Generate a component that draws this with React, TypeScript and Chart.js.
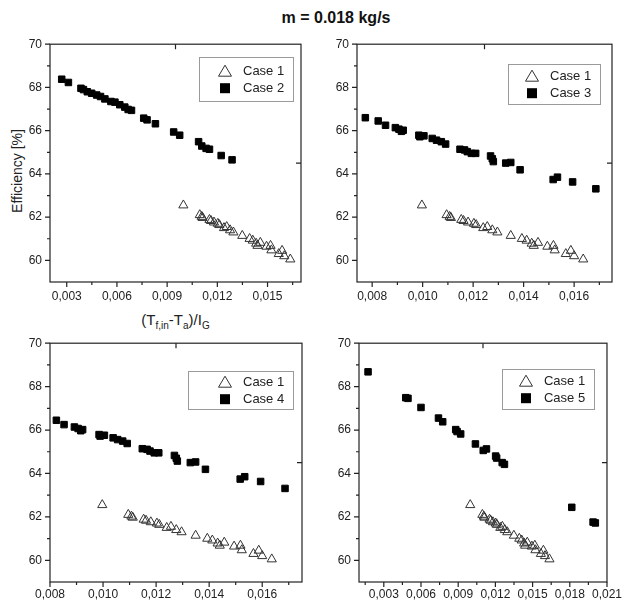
import React, { useEffect, useRef } from 'react';
import { Chart, registerables } from 'chart.js';

Chart.register(...registerables);
Chart.defaults.font.family = '"Liberation Sans", Arial, sans-serif';

// ---- data ----
const case1X = [0.00997, 0.01095, 0.01107, 0.01112, 0.01153, 0.01162, 0.0118, 0.01203, 0.01212, 0.0124, 0.01256, 0.01276, 0.01296, 0.01349, 0.01393, 0.01412, 0.01432, 0.0144, 0.01457, 0.01494, 0.01518, 0.01523, 0.01567, 0.01587, 0.016, 0.01636];
const case1Y = [62.55, 62.1, 62.02, 61.97, 61.88, 61.83, 61.76, 61.7, 61.64, 61.5, 61.55, 61.4, 61.3, 61.14, 61.0, 60.92, 60.78, 60.68, 60.82, 60.64, 60.68, 60.47, 60.3, 60.45, 60.2, 60.05];

const case2X = [0.0027, 0.0031, 0.00385, 0.004, 0.00423, 0.00449, 0.00479, 0.00502, 0.00528, 0.00564, 0.00588, 0.00617, 0.00647, 0.00667, 0.00687, 0.0076, 0.0078, 0.0083, 0.00939, 0.00975, 0.01088, 0.01107, 0.01133, 0.01153, 0.01223, 0.01288];
const case2Y = [68.38, 68.23, 67.96, 67.9, 67.8, 67.73, 67.65, 67.58, 67.47, 67.35, 67.32, 67.2, 67.09, 66.98, 66.94, 66.58, 66.5, 66.32, 65.94, 65.79, 65.49, 65.29, 65.18, 65.14, 64.85, 64.65];

const case3X = [0.00773, 0.00824, 0.00853, 0.00892, 0.00906, 0.00916, 0.00923, 0.00985, 0.00989, 0.01005, 0.01038, 0.01055, 0.01074, 0.01091, 0.01148, 0.01166, 0.01177, 0.01193, 0.0121, 0.01269, 0.01276, 0.0128, 0.01329, 0.01349, 0.01386, 0.01517, 0.01534, 0.01594, 0.01686];
const case3Y = [66.6, 66.45, 66.25, 66.14, 66.07, 65.97, 66.02, 65.79, 65.72, 65.76, 65.64, 65.56, 65.49, 65.38, 65.14, 65.11, 65.03, 64.95, 64.95, 64.83, 64.7, 64.57, 64.5, 64.53, 64.19, 63.74, 63.85, 63.63, 63.31];

const case4X = [0.00824, 0.00853, 0.00892, 0.00906, 0.00916, 0.00923, 0.00985, 0.00989, 0.01005, 0.01038, 0.01055, 0.01074, 0.01091, 0.01148, 0.01166, 0.01177, 0.01193, 0.0121, 0.01269, 0.01276, 0.0128, 0.01329, 0.01349, 0.01386, 0.01517, 0.01534, 0.01594, 0.01686];
const case4Y = [66.45, 66.25, 66.14, 66.07, 65.97, 66.02, 65.79, 65.72, 65.76, 65.64, 65.56, 65.49, 65.38, 65.14, 65.11, 65.03, 64.95, 64.95, 64.83, 64.7, 64.57, 64.5, 64.53, 64.19, 63.74, 63.85, 63.63, 63.31];

const case5X = [0.00173, 0.00477, 0.00495, 0.006, 0.00741, 0.00775, 0.0088, 0.00891, 0.0092, 0.01039, 0.01102, 0.01128, 0.01202, 0.0121, 0.01255, 0.01273, 0.01816, 0.01988, 0.02006];
const case5Y = [68.68, 67.49, 67.46, 67.04, 66.55, 66.38, 66.02, 65.93, 65.82, 65.36, 65.06, 65.13, 64.8, 64.71, 64.5, 64.42, 62.44, 61.76, 61.72];

const seriesLabels = ['Case 1', 'Case 2', 'Case 3', 'Case 4', 'Case 5'];

const yTicks = [60, 62, 64, 66, 68, 70];
const yMinor = [61, 63, 65, 67, 69];
const xTicksA = [0.003, 0.006, 0.009, 0.012, 0.015];
const xMinorA = [0.0045, 0.0075, 0.0105, 0.0135, 0.0165];
const xTicksB = [0.008, 0.01, 0.012, 0.014, 0.016];
const xMinorB = [0.009, 0.011, 0.013, 0.015, 0.017];
const xTicksC = [0.003, 0.006, 0.009, 0.012, 0.015, 0.018, 0.021];
const xMinorC = [0.0015, 0.0045, 0.0075, 0.0105, 0.0135, 0.0165, 0.0195];

const FONT = '"Liberation Sans", Arial, sans-serif';
const YW = 50; // y-axis box width
const XH = 30; // x-axis box height
const PT = 12; // top padding
const PR = 15; // right padding

const toPts = (xs: number[], ys: number[]) => xs.map((x, i) => ({ x, y: ys[i] }));

const framePlugin = {
  id: 'frame',
  afterDraw(chart: any, _args: any, opts: any) {
    const { ctx, chartArea } = chart;
    const { left, top, right, bottom } = chartArea;
    const xs = chart.scales.x;
    const ys = chart.scales.y;
    ctx.save();
    ctx.strokeStyle = '#222';
    ctx.lineWidth = 1.2;
    ctx.strokeRect(left, top, right - left, bottom - top);
    ctx.beginPath();
    for (const v of opts.xMajor) {
      const p = xs.getPixelForValue(v);
      ctx.moveTo(p, bottom); ctx.lineTo(p, bottom + 5);
    }
    for (const v of opts.xMinor) {
      const p = xs.getPixelForValue(v);
      ctx.moveTo(p, bottom); ctx.lineTo(p, bottom + 3);
    }
    for (const v of opts.yMajor) {
      const p = ys.getPixelForValue(v);
      ctx.moveTo(left, p); ctx.lineTo(left - 5, p);
    }
    for (const v of opts.yMinor) {
      const p = ys.getPixelForValue(v);
      ctx.moveTo(left, p); ctx.lineTo(left - 3, p);
    }
    const mx = (left + right) / 2;
    const my = (top + bottom) / 2;
    ctx.moveTo(mx, top); ctx.lineTo(mx, top + 5);
    ctx.moveTo(right, my); ctx.lineTo(right - 5, my);
    ctx.stroke();

    // legend
    const lg = opts.legend;
    const bx = right - lg.right - lg.w;
    const by = top + lg.top;
    ctx.strokeStyle = '#9a9a9a';
    ctx.lineWidth = 1;
    ctx.strokeRect(Math.round(bx) + 0.5, Math.round(by) + 0.5, lg.w, lg.h);
    const cy = by + lg.h / 2;
    const rows = [cy - 8, cy + 9];
    const markX = bx + lg.w - 68;
    const textX = bx + lg.w - 50;
    ctx.font = '13px ' + FONT;
    ctx.fillStyle = '#222';
    ctx.textBaseline = 'middle';
    ctx.textAlign = 'left';
    chart.data.datasets.forEach((ds: any, i: number) => {
      const ry = rows[i];
      if (ds.pointStyle === 'triangle') {
        ctx.beginPath();
        ctx.moveTo(markX, ry - 6);
        ctx.lineTo(markX + 6.5, ry + 5);
        ctx.lineTo(markX - 6.5, ry + 5);
        ctx.closePath();
        ctx.strokeStyle = '#333';
        ctx.lineWidth = 1;
        ctx.stroke();
      } else {
        ctx.fillStyle = '#000';
        ctx.fillRect(markX - 5, ry - 5, 10, 10);
      }
      ctx.fillStyle = '#222';
      ctx.fillText(ds.label, textX, ry + 0.5);
    });
    ctx.restore();
  },
};

type PanelCfg = {
  area: { l: number; t: number; r: number; b: number };
  xMin: number;
  xMax: number;
  xTicks: number[];
  xMinor: number[];
  otherX: number[];
  otherY: number[];
  otherLabel: string;
  labelGap: number;
  legend: { right: number; top: number; w: number; h: number };
};

const panels: PanelCfg[] = [
  { area: { l: 50, t: 41, r: 301, b: 282 }, xMin: 0.002, xMax: 0.017, xTicks: xTicksA, xMinor: xMinorA, otherX: case2X, otherY: case2Y, otherLabel: seriesLabels[1], labelGap: 7, legend: { right: 8, top: 13, w: 94, h: 44 } },
  { area: { l: 357, t: 41, r: 612, b: 282 }, xMin: 0.0074, xMax: 0.0175, xTicks: xTicksB, xMinor: xMinorB, otherX: case3X, otherY: case3Y, otherLabel: seriesLabels[2], labelGap: 7, legend: { right: 12, top: 20, w: 92, h: 40 } },
  { area: { l: 50, t: 340, r: 302, b: 582 }, xMin: 0.008, xMax: 0.0175, xTicks: xTicksB, xMinor: xMinorB, otherX: case4X, otherY: case4Y, otherLabel: seriesLabels[3], labelGap: 5, legend: { right: 9, top: 28, w: 105, h: 38 } },
  { area: { l: 359, t: 340, r: 612, b: 582 }, xMin: 0.001, xMax: 0.021, xTicks: xTicksC, xMinor: xMinorC, otherX: case5X, otherY: case5Y, otherLabel: seriesLabels[4], labelGap: 5, legend: { right: 13, top: 26, w: 92, h: 40 } },
];

function Panel({ cfg }: { cfg: PanelCfg }) {
  const ref = useRef<HTMLCanvasElement>(null);
  const left = cfg.area.l - YW;
  const top = cfg.area.t - PT;
  const w = cfg.area.r - cfg.area.l + YW + PR;
  const h = cfg.area.b - cfg.area.t + PT + XH;
  useEffect(() => {
    const chart = new Chart(ref.current as HTMLCanvasElement, {
      type: 'scatter',
      data: {
        datasets: [
          {
            label: seriesLabels[0],
            data: toPts(case1X, case1Y),
            pointStyle: 'triangle',
            pointRadius: 5.3,
            borderWidth: 1,
            borderColor: '#333',
            backgroundColor: 'rgba(255,255,255,0)',
          },
          {
            label: cfg.otherLabel,
            data: toPts(cfg.otherX, cfg.otherY),
            pointStyle: 'rect',
            pointRadius: 4.6,
            borderWidth: 1,
            borderColor: '#000',
            backgroundColor: '#000',
          },
        ],
      },
      options: {
        animation: false,
        responsive: false,
        events: [],
        layout: { padding: { left: 0, top: PT, right: PR, bottom: 0 } },
        plugins: {
          legend: { display: false },
          tooltip: { enabled: false },
          frame: { xMajor: cfg.xTicks, xMinor: cfg.xMinor, yMajor: yTicks, yMinor: yMinor, legend: cfg.legend },
        } as any,
        scales: {
          x: {
            type: 'linear',
            min: cfg.xMin,
            max: cfg.xMax,
            afterBuildTicks: (s: any) => { s.ticks = cfg.xTicks.map((value) => ({ value })); },
            afterFit: (s: any) => { s.height = XH; },
            grid: { display: false, drawTicks: false },
            border: { display: false },
            ticks: {
              padding: cfg.labelGap,
              color: '#222',
              font: { size: 12 },
              maxRotation: 0,
              autoSkip: false,
              callback: (v: any) => Number(v).toFixed(3).replace('.', ','),
            },
          },
          y: {
            type: 'linear',
            min: 59,
            max: 70,
            afterBuildTicks: (s: any) => { s.ticks = yTicks.map((value) => ({ value })); },
            afterFit: (s: any) => { s.width = YW; },
            grid: { display: false, drawTicks: false },
            border: { display: false },
            ticks: {
              padding: 8,
              color: '#222',
              font: { size: 12 },
              autoSkip: false,
              callback: (v: any) => String(v),
            },
          },
        },
      },
      plugins: [framePlugin],
    } as any);
    return () => chart.destroy();
  }, []);
  return (
    <canvas
      ref={ref}
      width={w}
      height={h}
      style={{ position: 'absolute', left, top, width: w, height: h }}
    />
  );
}

export default function App() {
  return (
    <div
      style={{
        position: 'absolute',
        left: 0,
        top: 0,
        width: 627,
        height: 604,
        overflow: 'hidden',
        background: '#fff',
        fontFamily: FONT,
        color: '#111',
      }}
    >
      <div
        style={{
          position: 'absolute',
          left: 236,
          top: 8,
          width: 200,
          textAlign: 'center',
          fontSize: 16,
          fontWeight: 'bold',
          lineHeight: '20px',
        }}
      >
        m = 0.018 kg/s
      </div>
      <div
        style={{
          position: 'absolute',
          left: 17 - 60,
          top: 171 - 9,
          width: 120,
          height: 18,
          lineHeight: '18px',
          textAlign: 'center',
          fontSize: 14,
          transform: 'rotate(-90deg)',
          color: '#222',
        }}
      >
        Efficiency [%]
      </div>
      <div
        style={{
          position: 'absolute',
          left: 100,
          top: 311,
          width: 151,
          textAlign: 'center',
          fontSize: 15,
          lineHeight: '18px',
          color: '#222',
        }}
      >
        (T<sub style={{ fontSize: 10 }}>f,in</sub>-T<sub style={{ fontSize: 10 }}>a</sub>)/I<sub style={{ fontSize: 10 }}>G</sub>
      </div>
      {panels.map((p, i) => (
        <Panel key={i} cfg={p} />
      ))}
    </div>
  );
}
